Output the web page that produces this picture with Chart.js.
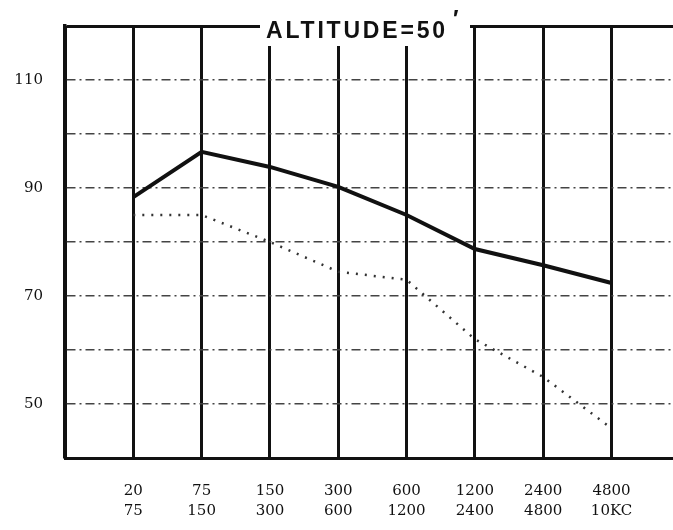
<!DOCTYPE html>
<html>
<head>
<meta charset="utf-8">
<script src="https://cdn.jsdelivr.net/npm/chart.js@4"></script>
<style>
  body { margin: 0; background: #fff; }
</style>
</head>
<body>
<canvas id="myChart" width="673" height="530"></canvas>
<script>
// frequency bands (lower / upper edge), one per vertical line
var bandLow  = ['20', '75', '150', '300', '600', '1200', '2400', '4800'];
var bandHigh = ['75', '150', '300', '600', '1200', '2400', '4800', '10KC'];

// levels
var solidLevels  = [88.3, 96.7, 93.9, 90.2, 85.0, 78.7, 75.7, 72.4];
var dottedLevels = [85.0, 85.0, 80.0, 74.5, 73.0, 62.0, 55.0, 45.5];

var yLabels = [50, 70, 90, 110];

function toPoints(vals) {
    return vals.map(function (v, i) { return { x: i + 1, y: v }; });
}

// title written over the top border line
var titlePlugin = {
    id: 'altTitle',
    afterDraw: function (chart) {
        var ctx = chart.ctx;
        ctx.save();
        ctx.fillStyle = '#fff';
        ctx.fillRect(260, 4, 210, 42);
        ctx.fillStyle = '#111';
        ctx.font = 'bold 23px "Liberation Sans"';
        ctx.letterSpacing = '2.8px';
        ctx.textBaseline = 'alphabetic';
        ctx.fillText('ALTITUDE=50', 266, 38);
        ctx.letterSpacing = '0px';
        ctx.fillText('\u2032', 453, 27);
        ctx.restore();
    }
};

var ctx = document.getElementById('myChart').getContext('2d');
var chart = new Chart(ctx, {
    type: 'line',
    data: {
        datasets: [{
            label: 'solid',
            data: toPoints(solidLevels),
            borderColor: '#111',
            borderWidth: 4,
            pointRadius: 0,
            fill: false,
            tension: 0
        }, {
            label: 'dotted',
            data: toPoints(dottedLevels),
            borderColor: '#333',
            borderWidth: 2.5,
            borderDash: [2, 7],
            pointRadius: 0,
            fill: false,
            tension: 0
        }]
    },
    options: {
        responsive: false,
        animation: false,
        layout: { padding: { top: 26, right: 0, left: 0, bottom: 0 } },
        plugins: {
            legend: { display: false },
            tooltip: { enabled: false }
        },
        scales: {
            x: {
                type: 'linear',
                min: 0,
                max: 8.9,
                afterFit: function (s) { s.height = 72; s.paddingLeft = 0; s.paddingRight = 0; },
                ticks: {
                    stepSize: 1,
                    includeBounds: false,
                    autoSkip: false,
                    maxRotation: 0,
                    padding: 23,
                    color: '#111',
                    font: { family: '"DejaVu Serif"', size: 15, lineHeight: 1.35 },
                    callback: function (v) {
                        if (v < 1 || v > 8) return '';
                        return [bandLow[v - 1], bandHigh[v - 1]];
                    }
                },
                grid: { color: '#111', lineWidth: 3, drawTicks: false },
                border: { display: true, color: '#111', width: 3 }
            },
            y: {
                min: 40,
                max: 120,
                afterFit: function (s) { s.width = 65; s.paddingTop = 0; s.paddingBottom = 0; },
                ticks: {
                    stepSize: 10,
                    padding: 22,
                    color: '#111',
                    font: { family: '"DejaVu Serif"', size: 15 },
                    callback: function (v) {
                        return yLabels.indexOf(v) >= 0 ? String(v) : '';
                    }
                },
                grid: {
                    drawTicks: false,
                    color: function (c) { return c.tick && c.tick.value === 120 ? '#111' : '#444'; },
                    lineWidth: function (c) { return c.tick && c.tick.value === 120 ? 3 : 1.4; }
                },
                border: {
                    display: true,
                    color: '#111',
                    width: 3.5,
                    dash: function (c) {
                        if (!c.tick || c.tick.value === 120 || c.tick.value === 40) return [];
                        return [9, 4, 2, 4];
                    }
                }
            }
        }
    },
    plugins: [titlePlugin]
});
</script>
</body>
</html>
